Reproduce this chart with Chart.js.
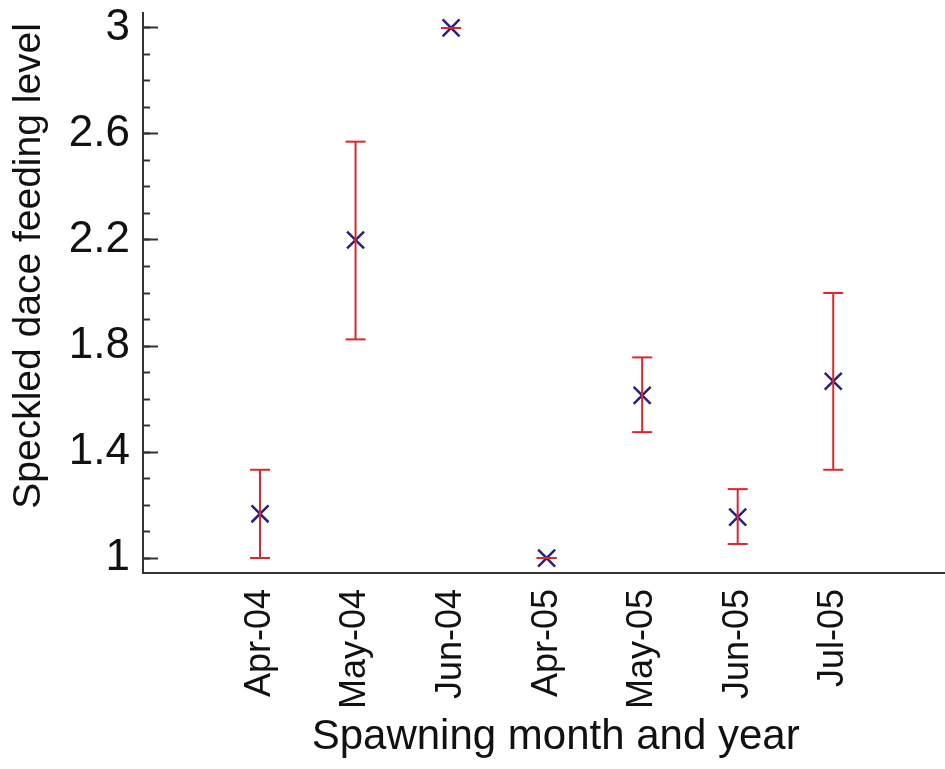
<!DOCTYPE html>
<html>
<head>
<meta charset="utf-8">
<script src="https://cdn.jsdelivr.net/npm/chart.js@4/dist/chart.umd.min.js"></script>
<style>
  html, body { margin: 0; padding: 0; background: #fff; }
  #wrap { width: 945px; height: 769px; }
</style>
</head>
<body>
<div id="wrap"><canvas id="feedingChart" width="945" height="769"></canvas></div>
<script>
// values
const categories = ['Apr-04', 'May-04', 'Jun-04', 'Apr-05', 'May-05', 'Jun-05', 'Jul-05'];
const means = [1.167, 2.2, 3.0, 1.0, 1.614, 1.154, 1.667];
const lower = [1.0, 1.825, 3.0, 1.0, 1.475, 1.053, 1.333];
const upper = [1.333, 2.571, 3.0, 1.0, 1.757, 1.26, 2.0];
const majorTicks = [1, 1.4, 1.8, 2.2, 2.6, 3];
const minorTicks = [1, 1.1, 1.2, 1.3, 1.4, 1.5, 1.6, 1.7, 1.8, 1.9, 2, 2.1, 2.2, 2.3, 2.4, 2.5, 2.6, 2.7, 2.8, 2.9, 3];

const axisColor = '#333333';
const barRed = '#e3242b';
const markBlue = '#26237f';
const sans = "'Liberation Sans', Arial, sans-serif";

const meanPoints = means.map((m, i) => ({ x: i + 1, y: m }));

// vertical bar for each month, broken by a null point between months
const errPoints = [];
categories.forEach((c, i) => {
    errPoints.push({ x: i + 1, y: lower[i] });
    errPoints.push({ x: i + 1, y: upper[i] });
    errPoints.push({ x: i + 1.5, y: null });
});

const ctx = document.getElementById('feedingChart').getContext('2d');
const chart = new Chart(ctx, {
    type: 'scatter',
    data: {
        datasets: [
            {
                label: 'range',
                data: errPoints,
                showLine: true,
                spanGaps: false,
                borderColor: barRed,
                borderWidth: 2,
                pointStyle: 'line',
                pointRadius: 10,
                pointBorderColor: barRed,
                pointBorderWidth: 2,
                order: 0
            },
            {
                label: 'mean',
                data: meanPoints,
                pointStyle: 'crossRot',
                pointRadius: 12,
                pointBorderColor: markBlue,
                pointBorderWidth: 2.5,
                order: 1
            }
        ]
    },
    options: {
        responsive: false,
        animation: false,
        layout: { autoPadding: false, padding: { top: 13, right: 0, left: 0, bottom: 0 } },
        plugins: { legend: { display: false }, tooltip: { enabled: false } },
        scales: {
            x: {
                type: 'linear',
                min: -0.225,
                max: 8.17,
                afterBuildTicks: s => { s.ticks = categories.map((c, i) => ({ value: i + 1 })); },
                afterFit: s => { s.height = 196; s.paddingLeft = 0; s.paddingRight = 0; },
                grid: { display: false },
                border: { display: true, color: axisColor, width: 2 },
                ticks: {
                    autoSkip: false,
                    minRotation: 90,
                    maxRotation: 90,
                    padding: 8,
                    color: '#111',
                    font: { family: sans, size: 36 },
                    callback: v => categories[Math.round(v) - 1]
                },
                title: {
                    display: true,
                    text: '  Spawning month and year',
                    color: '#111',
                    font: { family: sans, size: 42 },
                    padding: { top: 0, bottom: 6 }
                }
            },
            y: {
                position: 'left',
                weight: 1,
                min: 0.9435,
                max: 3.0565,
                afterBuildTicks: s => { s.ticks = majorTicks.map(v => ({ value: v })); },
                afterFit: s => { s.width = 143; s.paddingTop = 0; s.paddingBottom = 0; },
                grid: {
                    drawOnChartArea: false,
                    drawTicks: true,
                    tickLength: -15,
                    tickColor: axisColor,
                    tickWidth: 2
                },
                border: { display: true, color: axisColor, width: 2 },
                ticks: {
                    padding: 28,
                    color: '#111',
                    font: { family: sans, size: 44 },
                    callback: v => String(Math.round(v * 10) / 10)
                },
                title: {
                    display: true,
                    text: '     Speckled dace feeding level',
                    color: '#111',
                    font: { family: sans, size: 39 },
                    padding: { top: 6, bottom: 0 }
                }
            },
            yMinor: {
                position: 'left',
                weight: 0,
                min: 0.9435,
                max: 3.0565,
                afterBuildTicks: s => { s.ticks = minorTicks.map(v => ({ value: v })); },
                afterFit: s => { s.width = 0; s.paddingTop = 0; s.paddingBottom = 0; },
                grid: {
                    drawOnChartArea: false,
                    drawTicks: true,
                    tickLength: -7,
                    tickColor: axisColor,
                    tickWidth: 2
                },
                border: { display: false },
                ticks: { display: false }
            }
        }
    }
});
</script>
</body>
</html>
